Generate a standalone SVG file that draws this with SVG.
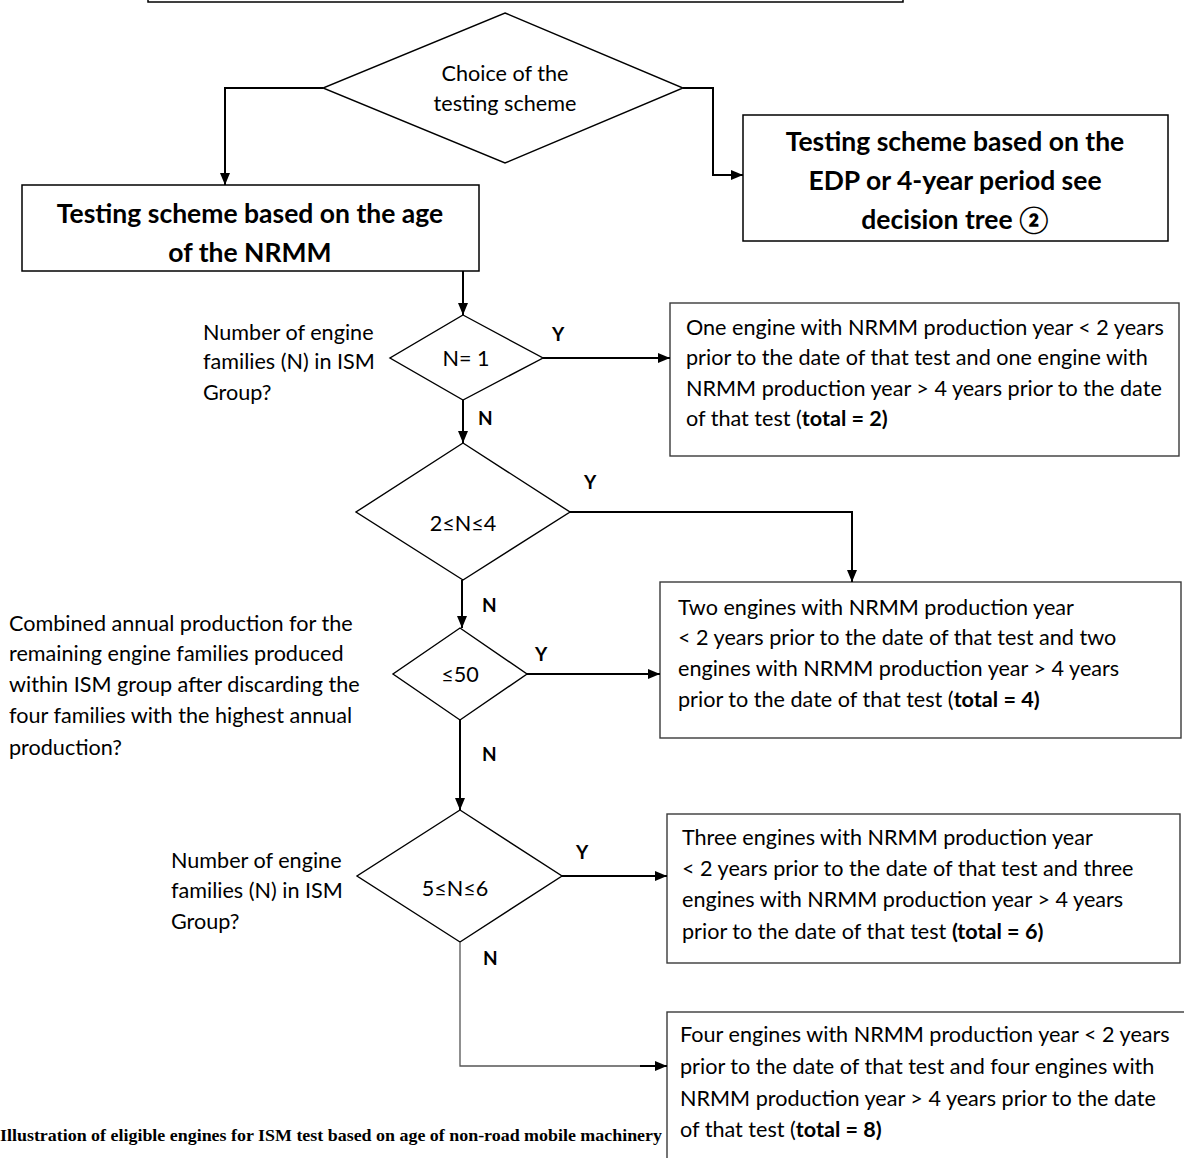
<svg xmlns="http://www.w3.org/2000/svg" width="1184" height="1158" viewBox="0 0 1184 1158">
  <style>
    .box { fill: #fff; stroke: #000; stroke-width: 1.5; }
    .rbox { fill: #fff; stroke: #3a3a3a; stroke-width: 1.4; }
    .dia { fill: #fff; stroke: #000; stroke-width: 1.4; }
    .conn { fill: none; stroke: #000; stroke-width: 2; }
    .thin { fill: none; stroke: #555; stroke-width: 1.3; }
    text { font-family: Lato, "Open Sans", "Liberation Sans", sans-serif; fill: #000; dominant-baseline: central; }
    .t { font-size: 21.6px; }
    .h { font-size: 26.5px; font-weight: bold; text-anchor: middle; }
    .c { text-anchor: middle; }
    .yn { font-size: 19px; font-weight: bold; }
    .b { font-weight: bold; }
    .cap { font-family: "Liberation Serif", serif; font-size: 16px; font-weight: bold; }
  </style>
  <defs>
    <marker id="arr" viewBox="0 0 12 10" refX="12" refY="5" markerWidth="12" markerHeight="10" markerUnits="userSpaceOnUse" orient="auto">
      <path d="M0,0 L12,5 L0,10 Z" fill="#000"/>
    </marker>
  </defs>

  <!-- heading box cut by the top edge -->
  <g id="top-box">
    <rect class="box" x="148" y="-20" width="755" height="22"/>
  </g>

  <g id="choice">
    <polygon class="dia" points="505,13 683,88 505,163 323,88"/>
    <text class="t c" x="505" y="73">Choice of the</text>
    <text class="t c" x="505" y="103">testing scheme</text>
  </g>

  <g id="scheme-edp">
    <rect class="box" x="743" y="115" width="425" height="126"/>
    <text class="h" x="955" y="141">Testing scheme based on the</text>
    <text class="h" x="955" y="180">EDP or 4-year period see</text>
    <text class="h" x="955" y="219">decision tree ②</text>
  </g>

  <g id="scheme-age">
    <rect class="box" x="22" y="185" width="457" height="86"/>
    <text class="h" x="250" y="213">Testing scheme based on the age</text>
    <text class="h" x="250" y="252">of the NRMM</text>
  </g>

  <g id="q-n1">
    <polygon class="dia" points="463,315 543,358 463,400 390,358"/>
    <text class="t c" x="466" y="358">N= 1</text>
    <text class="t" x="203" y="332">Number of engine</text>
    <text class="t" x="203" y="361">families (N) in ISM</text>
    <text class="t" x="203" y="392">Group?</text>
  </g>

  <g id="r-total2">
    <rect class="rbox" x="670" y="303" width="509" height="153"/>
    <text class="t" x="686" y="327">One engine with NRMM production year &lt; 2 years</text>
    <text class="t" x="686" y="357">prior to the date of that test and one engine with</text>
    <text class="t" x="686" y="388">NRMM production year &gt; 4 years prior to the date</text>
    <text class="t" x="686" y="418">of that test (<tspan class="b">total = 2)</tspan></text>
  </g>

  <g id="q-n2to4">
    <polygon class="dia" points="463,443 570,512 463,580 356,512"/>
    <text class="t c" x="463" y="523">2≤N≤4</text>
  </g>

  <g id="r-total4">
    <rect class="rbox" x="660" y="582" width="521" height="156"/>
    <text class="t" x="678" y="607">Two engines with NRMM production year</text>
    <text class="t" x="678" y="637">&lt; 2 years prior to the date of that test and two</text>
    <text class="t" x="678" y="668">engines with NRMM production year &gt; 4 years</text>
    <text class="t" x="678" y="699">prior to the date of that test (<tspan class="b">total = 4)</tspan></text>
  </g>

  <g id="q-le50">
    <polygon class="dia" points="460,628 527,674 460,720 393,674"/>
    <text class="t c" x="460" y="674">≤50</text>
    <text class="t" x="9" y="623">Combined annual production for the</text>
    <text class="t" x="9" y="653">remaining engine families produced</text>
    <text class="t" x="9" y="684">within ISM group after discarding the</text>
    <text class="t" x="9" y="715">four families with the highest annual</text>
    <text class="t" x="9" y="747">production?</text>
  </g>

  <g id="q-n5to6">
    <polygon class="dia" points="460,810 562,876 460,942 357,876"/>
    <text class="t c" x="455" y="888">5≤N≤6</text>
    <text class="t" x="171" y="860">Number of engine</text>
    <text class="t" x="171" y="890">families (N) in ISM</text>
    <text class="t" x="171" y="921">Group?</text>
  </g>

  <g id="r-total6">
    <rect class="rbox" x="667" y="814" width="513" height="149"/>
    <text class="t" x="682" y="837">Three engines with NRMM production year</text>
    <text class="t" x="682" y="868">&lt; 2 years prior to the date of that test and three</text>
    <text class="t" x="682" y="899">engines with NRMM production year &gt; 4 years</text>
    <text class="t" x="682" y="931">prior to the date of that test <tspan class="b">(total = 6)</tspan></text>
  </g>

  <g id="r-total8">
    <rect class="rbox" x="667" y="1012" width="540" height="170"/>
    <text class="t" x="680" y="1034">Four engines with NRMM production year &lt; 2 years</text>
    <text class="t" x="680" y="1066">prior to the date of that test and four engines with</text>
    <text class="t" x="680" y="1098">NRMM production year &gt; 4 years prior to the date</text>
    <text class="t" x="680" y="1129">of that test (<tspan class="b">total = 8)</tspan></text>
  </g>

  <g id="connectors">
    <polyline class="conn" points="323,88 225,88 225,185" marker-end="url(#arr)"/>
    <polyline class="conn" points="683,88 713,88 713,175 743,175" marker-end="url(#arr)"/>
    <line class="conn" x1="463" y1="271" x2="463" y2="315" marker-end="url(#arr)"/>
    <line class="conn" x1="543" y1="358" x2="670" y2="358" marker-end="url(#arr)"/>
    <line class="conn" x1="463" y1="400" x2="463" y2="443" marker-end="url(#arr)"/>
    <polyline class="conn" points="570,512 852,512 852,582" marker-end="url(#arr)"/>
    <line class="conn" x1="462" y1="580" x2="462" y2="628" marker-end="url(#arr)"/>
    <line class="conn" x1="527" y1="674" x2="660" y2="674" marker-end="url(#arr)"/>
    <line class="conn" x1="460" y1="720" x2="460" y2="810" marker-end="url(#arr)"/>
    <line class="conn" x1="562" y1="876" x2="667" y2="876" marker-end="url(#arr)"/>
    <polyline class="thin" points="460,942 460,1066 640,1066"/>
    <line class="conn" x1="640" y1="1066" x2="667" y2="1066" marker-end="url(#arr)"/>
    <text class="yn" x="552" y="333">Y</text>
    <text class="yn" x="478" y="417">N</text>
    <text class="yn" x="584" y="481">Y</text>
    <text class="yn" x="482" y="604">N</text>
    <text class="yn" x="535" y="653">Y</text>
    <text class="yn" x="482" y="753">N</text>
    <text class="yn" x="576" y="851">Y</text>
    <text class="yn" x="483" y="957">N</text>
  </g>

  <text class="cap" x="0" y="1135" textLength="662" lengthAdjust="spacingAndGlyphs">Illustration of eligible engines for ISM test based on age of non-road mobile machinery</text>
</svg>
